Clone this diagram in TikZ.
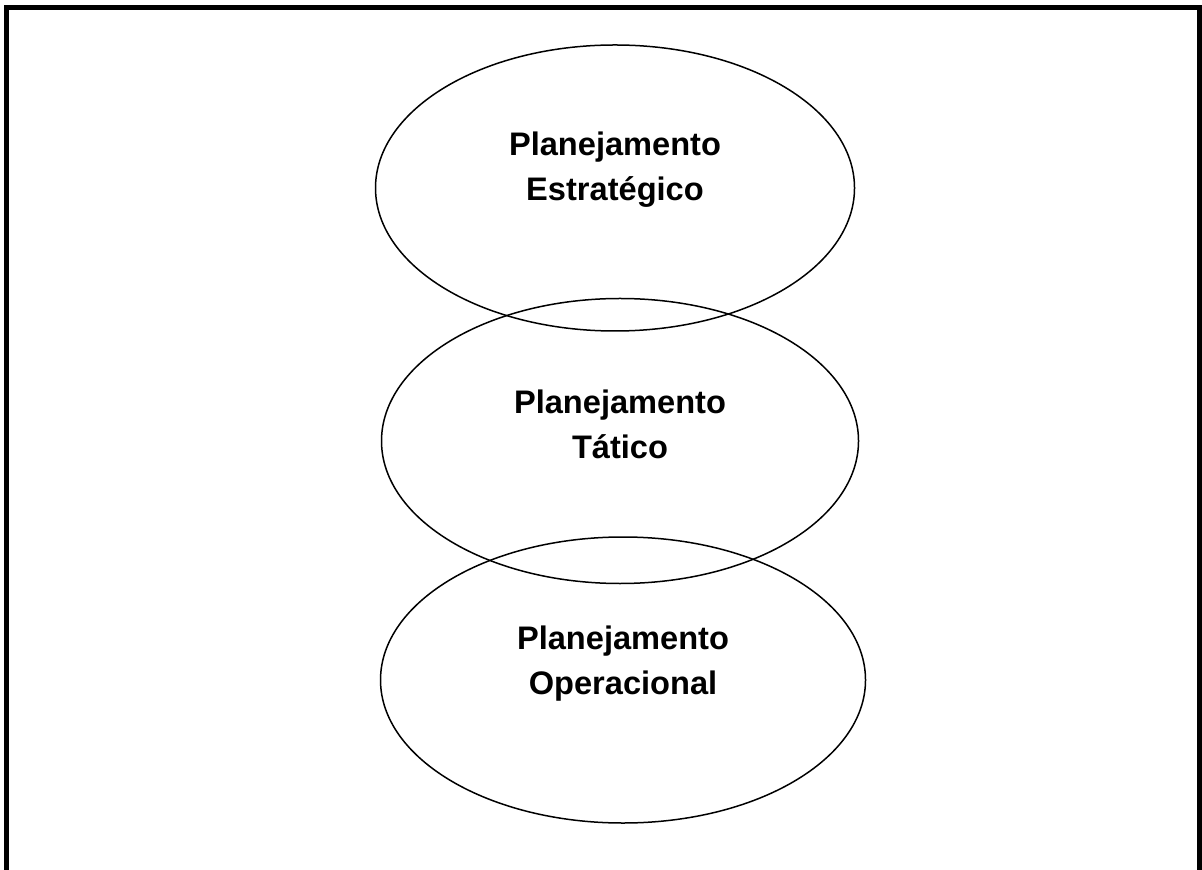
\documentclass[tikz,border=0pt]{standalone}
\usepackage{fontspec}
\setmainfont{Liberation Sans}
\usepackage{tikz}
\usetikzlibrary{shapes.geometric,positioning}
\tikzset{
  planEllipse/.style={draw=black, ellipse, line width=0.75pt, inner sep=0pt},
  planLabel/.style={font=\fontsize{16.3}{22.5}\selectfont\bfseries, align=center},
  frameLine/.style={line width=2.5pt, draw=black, miter limit=10}
}
\begin{document}
\begin{tikzpicture}[x=0.5pt,y=-0.5pt]
  \useasboundingbox (0,0) rectangle (1202,870);
  \draw[frameLine] (6.5,870) -- (6.5,7.5) -- (1199.5,7.5) -- (1199.5,870);
  \node[planEllipse, minimum width=239.5pt, minimum height=143pt] (estrat) at (615,188) {};
  \node[planEllipse, minimum width=238.5pt, minimum height=142.5pt] (tatico) at (620,441) {};
  \node[planEllipse, minimum width=242.5pt, minimum height=143pt] (operac) at (623,680) {};
  \node[planLabel] (estratTxt) at ([yshift=9pt]estrat.center) {Planejamento\\Estratégico};
  \node[planLabel] (taticoTxt) at ([yshift=8.5pt]tatico.center) {Planejamento\\Tático};
  \node[planLabel] (operacTxt) at ([yshift=8pt]operac.center) {Planejamento\\Operacional};
\end{tikzpicture}
\end{document}
